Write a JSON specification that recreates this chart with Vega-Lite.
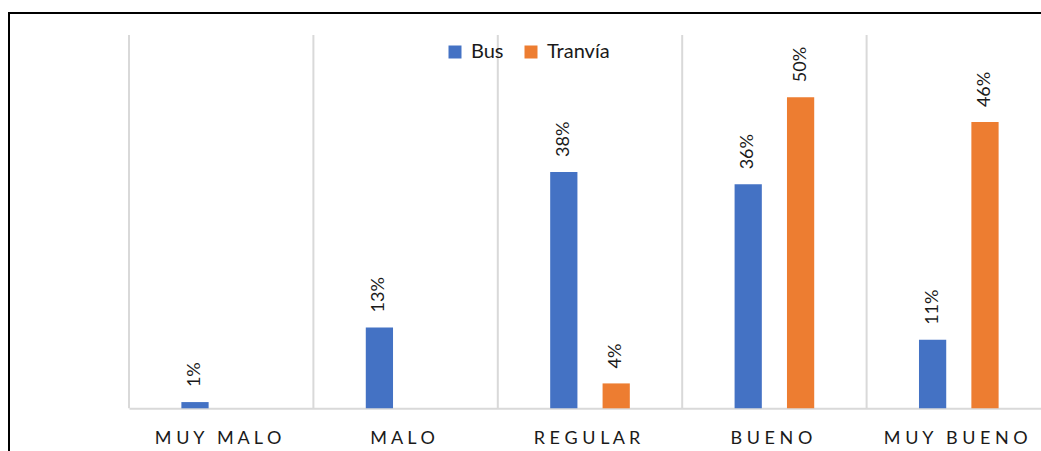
{
  "$schema": "https://vega.github.io/schema/vega-lite/v6.json",
  "autosize": {"type": "none"},
  "padding": {"left": 9, "top": 13, "right": -4, "bottom": -4},
  "width": 1036,
  "height": 442,
  "background": "#ffffff",
  "config": {
    "view": {"stroke": "#000000", "strokeWidth": 2},
    "font": "Lato"
  },
  "data": {
    "values": [
      {"categoria": "MUY MALO", "modo": "Bus", "valor": 0.01},
      {"categoria": "MALO", "modo": "Bus", "valor": 0.13},
      {"categoria": "REGULAR", "modo": "Bus", "valor": 0.38},
      {"categoria": "REGULAR", "modo": "Tranvía", "valor": 0.04},
      {"categoria": "BUENO", "modo": "Bus", "valor": 0.36},
      {"categoria": "BUENO", "modo": "Tranvía", "valor": 0.50},
      {"categoria": "MUY BUENO", "modo": "Bus", "valor": 0.11},
      {"categoria": "MUY BUENO", "modo": "Tranvía", "valor": 0.46}
    ]
  },
  "encoding": {
    "x": {
      "field": "categoria",
      "type": "nominal",
      "scale": {
        "domain": ["MUY MALO", "MALO", "REGULAR", "BUENO", "MUY BUENO"],
        "range": [120, 1042],
        "paddingInner": 0,
        "paddingOuter": 0
      },
      "axis": {
        "title": null,
        "orient": "bottom",
        "offset": -46.7,
        "grid": false,
        "ticks": false,
        "tickSize": 0,
        "domainColor": "#d9d9d9",
        "domainWidth": 2,
        "labelAngle": 0,
        "labelFont": "Lato",
        "labelFontSize": 18,
        "labelColor": "#1a1a1a",
        "labelBaseline": "alphabetic",
        "labelPadding": 35,
        "labelOffset": -3,
        "labelExpr": "join(split(replace(datum.label, ' ', '\u2008'), ''), ' ')"
      }
    },
    "y": {
      "field": "valor",
      "type": "quantitative",
      "scale": {"domain": [0, 0.6], "range": [395.3, 22], "nice": false, "zero": true},
      "axis": null
    }
  },
  "layer": [
    {
      "transform": [{"filter": "datum.modo == 'Bus'"}],
      "mark": {"type": "rule", "color": "#d9d9d9", "strokeWidth": 2},
      "encoding": {
        "x": {"field": "categoria", "type": "nominal", "bandPosition": 0},
        "y": {"datum": 0},
        "y2": {"datum": 0.6}
      }
    },
    {
      "mark": {"type": "bar"},
      "encoding": {
        "xOffset": {
          "field": "modo",
          "type": "nominal",
          "scale": {"domain": ["Bus", "Tranvía"], "paddingInner": 0.48, "paddingOuter": 1.16}
        },
        "color": {
          "field": "modo",
          "type": "nominal",
          "scale": {"domain": ["Bus", "Tranvía"], "range": ["#4472c4", "#ed7d31"]},
          "legend": {
            "title": null,
            "orient": "none",
            "direction": "horizontal",
            "legendX": 436,
            "legendY": 29,
            "symbolType": "square",
            "symbolSize": 169,
            "symbolStrokeWidth": 0,
            "labelFont": "Lato",
            "labelFontSize": 20,
            "labelColor": "#1a1a1a",
            "labelOffset": 6,
            "columnPadding": 17
          }
        }
      }
    },
    {
      "mark": {
        "type": "text",
        "angle": 270,
        "align": "left",
        "baseline": "middle",
        "dx": 15,
        "font": "Lato",
        "fontSize": 18,
        "color": "#1a1a1a"
      },
      "encoding": {
        "xOffset": {"field": "modo", "type": "nominal"},
        "text": {"field": "valor", "type": "quantitative", "format": ".0%"}
      }
    }
  ]
}
